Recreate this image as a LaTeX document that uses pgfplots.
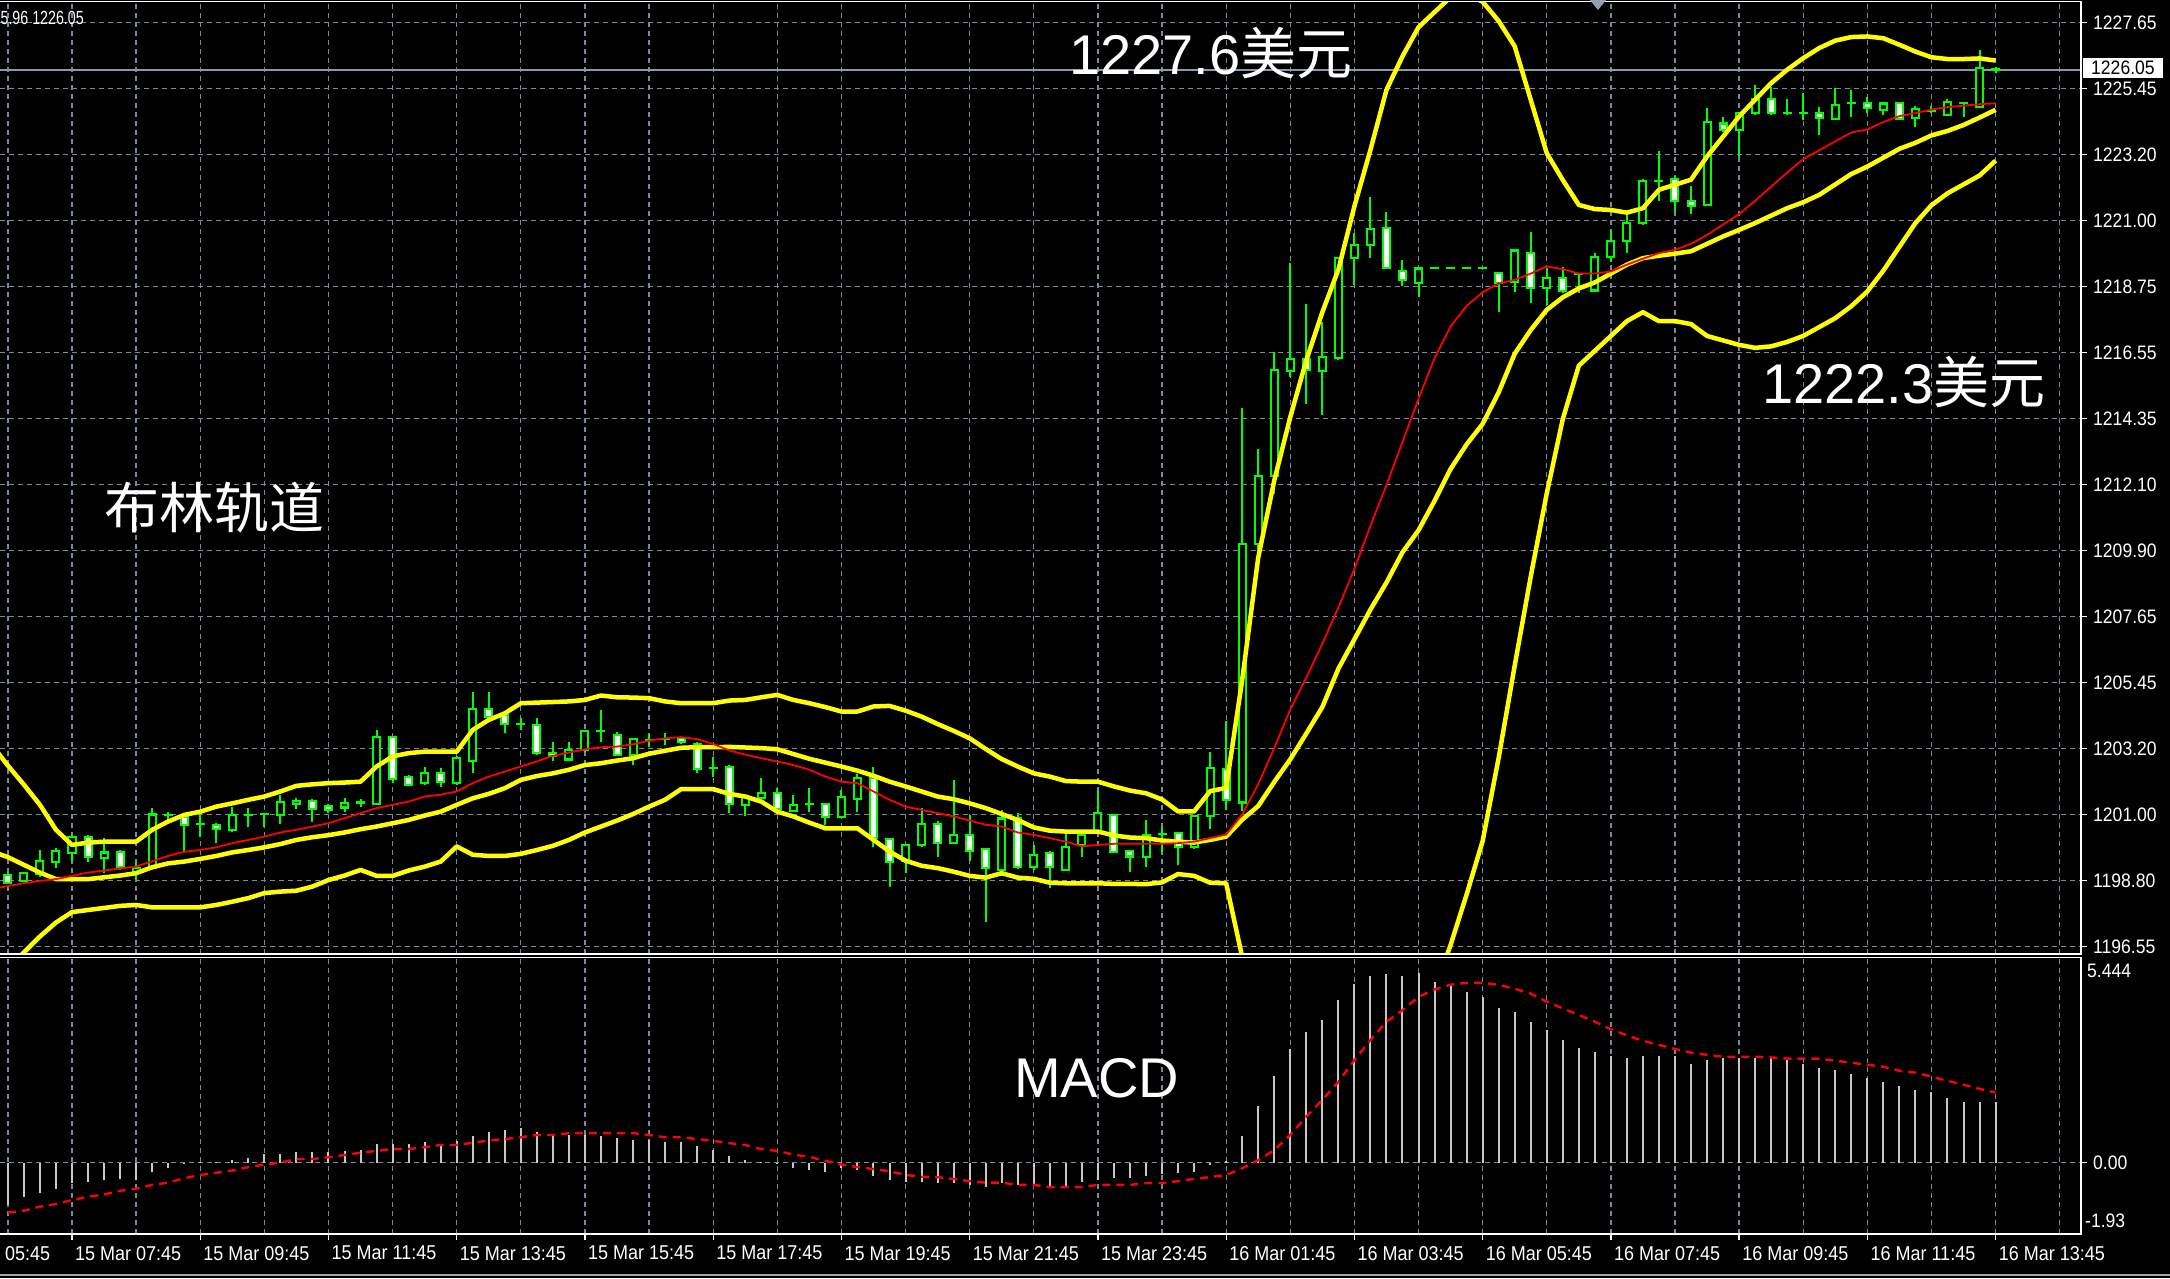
\documentclass[border=0pt]{standalone}
\usepackage{pgfplots}
\pgfplotsset{compat=1.18}
\usepackage{pgfplotstable}
\usepackage{fontspec}
\setmainfont{Liberation Sans}
\newfontfamily\cjk{Noto Sans CJK SC}
\newfontfamily\mtfont[FakeStretch=0.9]{Liberation Sans}
\newfontfamily\mtnarrow[FakeStretch=0.75]{Liberation Sans}
\definecolor{gridc}{HTML}{7A8A9C}
\definecolor{mtgreen}{HTML}{00FF00}
\definecolor{mtyellow}{HTML}{FFFF00}
\definecolor{histc}{HTML}{C8C8C8}
\definecolor{bidc}{HTML}{8A9AAA}

\pgfplotstableread{
i O H L C
-4 1198.96 1199.02 1198.68 1198.70
-3 1198.76 1199.07 1198.74 1199.04
-2 1199.02 1199.80 1198.91 1199.44
-1 1199.41 1199.86 1199.19 1199.78
0 1199.69 1200.31 1199.41 1200.25
1 1200.25 1200.31 1199.41 1199.58
2 1199.56 1200.20 1199.02 1199.73
3 1199.73 1199.80 1199.13 1199.24
4 1199.07 1199.41 1198.79 1199.19
5 1199.19 1201.21 1199.13 1201.00
6 1200.98 1201.09 1200.81 1200.98
7 1200.93 1200.98 1199.75 1200.65
8 1200.67 1201.04 1200.25 1200.67
9 1200.65 1200.70 1200.03 1200.51
10 1200.48 1201.26 1200.42 1201.00
11 1201.00 1201.21 1200.59 1201.00
12 1201.02 1201.04 1200.59 1201.02
13 1200.98 1201.66 1200.70 1201.41
14 1201.37 1201.54 1201.17 1201.45
15 1201.46 1201.54 1200.76 1201.18
16 1201.29 1201.37 1201.04 1201.17
17 1201.24 1201.54 1201.07 1201.40
18 1201.41 1201.54 1201.26 1201.41
19 1201.35 1203.84 1201.32 1203.62
20 1203.62 1203.64 1202.05 1202.19
21 1202.27 1202.33 1201.96 1201.99
22 1202.05 1202.61 1201.99 1202.41
23 1202.41 1202.55 1201.94 1202.08
24 1202.05 1202.95 1201.99 1202.89
25 1202.80 1205.13 1202.38 1204.57
26 1204.57 1205.13 1204.29 1204.29
27 1204.35 1204.46 1203.73 1204.04
28 1204.03 1204.24 1203.84 1204.03
29 1204.02 1204.24 1203.00 1203.08
30 1203.08 1203.42 1202.78 1202.97
31 1202.86 1203.42 1202.83 1203.17
32 1203.17 1203.84 1203.11 1203.82
33 1203.80 1204.52 1203.45 1203.80
34 1203.67 1203.79 1202.97 1203.00
35 1203.00 1203.56 1202.66 1203.53
36 1203.51 1203.73 1203.28 1203.51
37 1203.56 1203.75 1203.34 1203.56
38 1203.58 1203.62 1203.39 1203.45
39 1203.39 1203.45 1202.38 1202.55
40 1202.57 1202.95 1202.27 1202.57
41 1202.61 1202.66 1201.04 1201.35
42 1201.32 1201.66 1200.93 1201.60
43 1201.58 1202.22 1201.54 1201.73
44 1201.73 1201.88 1201.09 1201.17
45 1201.13 1201.66 1201.09 1201.33
46 1201.35 1201.88 1201.09 1201.35
47 1201.34 1201.40 1200.65 1200.93
48 1200.93 1201.82 1200.87 1201.60
49 1201.54 1202.38 1201.09 1202.22
50 1202.22 1202.61 1199.92 1200.20
51 1200.16 1200.20 1198.57 1199.41
52 1199.44 1199.97 1199.02 1199.97
53 1199.97 1201.21 1199.92 1200.67
54 1200.67 1200.79 1199.58 1200.05
55 1200.05 1202.16 1200.03 1200.31
56 1200.33 1200.98 1199.41 1199.78
57 1199.84 1199.84 1197.39 1199.19
58 1199.15 1201.15 1198.91 1200.87
59 1200.87 1201.06 1199.15 1199.22
60 1199.24 1199.97 1199.13 1199.63
61 1199.71 1199.75 1198.51 1199.24
62 1199.15 1200.39 1199.13 1199.92
63 1199.97 1200.39 1199.58 1200.31
64 1200.42 1201.82 1200.36 1201.06
65 1200.98 1201.02 1199.69 1199.75
66 1199.78 1199.80 1199.07 1199.58
67 1199.58 1200.81 1199.24 1200.31
68 1200.36 1200.59 1199.75 1200.36
69 1200.39 1200.42 1199.30 1199.92
70 1199.92 1200.98 1199.83 1200.95
71 1200.93 1203.11 1200.53 1202.55
72 1202.55 1204.16 1201.15 1201.49
73 1201.40 1214.68 1201.10 1210.10
74 1210.10 1213.30 1209.52 1212.39
75 1212.39 1216.58 1211.78 1215.97
76 1215.92 1219.56 1215.74 1216.32
77 1216.32 1218.18 1214.83 1215.97
78 1215.92 1217.57 1214.45 1216.40
79 1216.35 1219.77 1216.30 1219.72
80 1219.72 1220.56 1218.82 1220.17
81 1220.17 1221.79 1219.72 1220.72
82 1220.72 1221.27 1219.38 1219.38
83 1219.30 1219.66 1218.77 1218.99
84 1218.88 1219.38 1218.43 1219.38
85 1219.38 1219.38 1219.38 1219.38
86 1219.38 1219.38 1219.38 1219.38
87 1219.38 1219.38 1219.38 1219.38
88 1219.38 1219.38 1219.38 1219.38
89 1219.24 1219.24 1217.92 1218.90
90 1218.93 1219.98 1218.60 1219.98
91 1219.91 1220.59 1218.20 1218.71
92 1218.71 1219.38 1218.15 1219.05
93 1219.05 1219.44 1218.54 1218.63
94 1219.19 1219.21 1218.54 1219.19
95 1218.63 1219.91 1218.60 1219.77
96 1219.77 1220.69 1219.61 1220.31
97 1220.31 1221.26 1219.89 1220.92
98 1220.92 1222.39 1220.84 1222.33
99 1222.33 1223.34 1221.65 1222.33
100 1222.39 1222.47 1221.29 1221.66
101 1221.65 1222.15 1221.23 1221.48
102 1221.51 1224.77 1221.51 1224.30
103 1224.26 1224.49 1223.98 1224.04
104 1224.04 1224.66 1223.14 1224.60
105 1224.60 1225.55 1224.54 1225.10
106 1225.09 1225.50 1224.54 1224.60
107 1224.60 1225.10 1224.54 1224.60
108 1224.60 1225.29 1224.37 1224.60
109 1224.62 1224.82 1223.87 1224.43
110 1224.41 1225.44 1224.37 1224.88
111 1224.94 1225.38 1224.49 1224.94
112 1224.94 1225.16 1224.60 1224.77
113 1224.73 1224.94 1224.54 1224.94
114 1224.94 1224.99 1224.37 1224.43
115 1224.43 1224.85 1224.15 1224.73
116 1224.66 1224.85 1224.60 1224.66
117 1224.54 1225.10 1224.54 1224.96
118 1224.94 1225.00 1224.49 1224.94
119 1224.82 1226.73 1224.82 1226.11
120 1226.08 1226.17 1225.96 1226.05
}\candles

\pgfplotstableread{
i U M Lo R
-5 1203.34 1199.75 1195.20 1198.48
-4 1202.64 1199.56 1195.81 1198.59
-3 1202.00 1199.30 1196.35 1198.68
-2 1201.32 1199.04 1196.89 1198.76
-1 1200.48 1198.82 1197.36 1198.82
0 1199.97 1198.82 1197.71 1198.93
1 1200.05 1198.82 1197.78 1199.04
2 1200.08 1198.88 1197.85 1199.11
3 1200.08 1198.94 1197.92 1199.18
4 1200.08 1199.02 1197.95 1199.24
5 1200.48 1199.22 1197.87 1199.42
6 1200.76 1199.35 1197.87 1199.60
7 1200.98 1199.41 1197.87 1199.74
8 1201.09 1199.50 1197.87 1199.80
9 1201.26 1199.60 1197.95 1199.89
10 1201.37 1199.72 1198.06 1200.03
11 1201.49 1199.80 1198.18 1200.14
12 1201.60 1199.89 1198.35 1200.25
13 1201.77 1200.00 1198.40 1200.39
14 1201.96 1200.14 1198.43 1200.48
15 1202.01 1200.23 1198.57 1200.59
16 1202.05 1200.30 1198.79 1200.70
17 1202.07 1200.39 1198.94 1200.87
18 1202.10 1200.50 1199.13 1201.04
19 1202.61 1200.59 1198.93 1201.21
20 1202.95 1200.70 1198.93 1201.32
21 1203.06 1200.81 1199.11 1201.43
22 1203.11 1200.96 1199.24 1201.60
23 1203.11 1201.09 1199.41 1201.66
24 1203.11 1201.32 1199.92 1201.77
25 1203.84 1201.54 1199.64 1202.05
26 1204.18 1201.69 1199.60 1202.27
27 1204.40 1201.88 1199.60 1202.44
28 1204.74 1202.16 1199.67 1202.61
29 1204.76 1202.29 1199.80 1202.78
30 1204.78 1202.38 1199.94 1202.97
31 1204.80 1202.50 1200.14 1203.08
32 1204.85 1202.66 1200.39 1203.19
33 1205.00 1202.72 1200.59 1203.26
34 1204.94 1202.81 1200.79 1203.28
35 1204.93 1202.89 1201.01 1203.36
36 1204.91 1203.04 1201.26 1203.48
37 1204.80 1203.14 1201.49 1203.56
38 1204.74 1203.24 1201.85 1203.60
39 1204.74 1203.26 1201.85 1203.53
40 1204.74 1203.26 1201.85 1203.37
41 1204.83 1203.27 1201.69 1203.15
42 1204.85 1203.25 1201.60 1203.01
43 1204.94 1203.23 1201.43 1202.89
44 1205.02 1203.19 1201.09 1202.78
45 1204.85 1203.03 1200.93 1202.66
46 1204.74 1202.87 1200.72 1202.50
47 1204.61 1202.74 1200.53 1202.27
48 1204.46 1202.61 1200.53 1202.10
49 1204.46 1202.47 1200.53 1202.05
50 1204.63 1202.30 1200.14 1201.77
51 1204.65 1202.10 1199.75 1201.49
52 1204.49 1201.94 1199.44 1201.26
53 1204.29 1201.77 1199.27 1201.15
54 1204.04 1201.60 1199.19 1201.04
55 1203.81 1201.51 1199.07 1200.93
56 1203.56 1201.37 1198.93 1200.79
57 1203.20 1201.21 1198.87 1200.65
58 1202.86 1201.01 1199.02 1200.59
59 1202.61 1200.81 1198.87 1200.39
60 1202.38 1200.56 1198.83 1200.31
61 1202.27 1200.45 1198.70 1200.20
62 1202.12 1200.42 1198.68 1200.08
63 1202.10 1200.42 1198.68 1199.92
64 1202.10 1200.42 1198.68 1199.97
65 1201.94 1200.29 1198.66 1200.01
66 1201.80 1200.22 1198.66 1200.01
67 1201.71 1200.20 1198.65 1200.01
68 1201.50 1200.12 1198.71 1200.01
69 1201.10 1200.08 1198.99 1200.03
70 1201.10 1200.05 1198.93 1200.08
71 1201.78 1200.14 1198.70 1200.20
72 1201.89 1200.25 1198.68 1200.32
73 1205.52 1200.82 1196.20 1201.00
74 1209.64 1201.28 1192.92 1202.01
75 1212.23 1202.09 1191.95 1203.23
76 1214.37 1202.85 1191.33 1204.53
77 1216.28 1203.72 1191.16 1205.60
78 1217.90 1204.61 1191.32 1206.74
79 1219.33 1205.90 1192.47 1207.96
80 1221.46 1206.89 1192.32 1209.26
81 1223.36 1207.89 1192.42 1210.71
82 1225.38 1208.80 1192.22 1212.08
83 1226.51 1209.82 1193.13 1213.53
84 1227.49 1210.56 1193.63 1214.98
85 1228.00 1211.55 1195.10 1216.35
86 1228.50 1212.62 1196.60 1217.42
87 1228.60 1213.45 1198.30 1218.11
88 1228.35 1214.14 1200.10 1218.57
89 1227.70 1215.20 1202.90 1218.87
90 1226.85 1216.50 1206.00 1218.99
91 1225.05 1217.30 1209.00 1219.20
92 1223.25 1217.98 1211.80 1219.44
93 1222.35 1218.40 1214.30 1219.35
94 1221.51 1218.70 1216.10 1219.20
95 1221.37 1218.90 1216.60 1219.20
96 1221.34 1219.20 1217.10 1219.27
97 1221.25 1219.50 1217.60 1219.50
98 1221.40 1219.72 1217.90 1219.70
99 1222.02 1219.80 1217.60 1219.89
100 1222.19 1219.87 1217.60 1220.00
101 1222.36 1219.95 1217.50 1220.20
102 1223.14 1220.20 1217.10 1220.50
103 1223.81 1220.45 1216.95 1220.85
104 1224.49 1220.67 1216.80 1221.20
105 1225.05 1220.90 1216.70 1221.65
106 1225.61 1221.15 1216.75 1222.13
107 1226.06 1221.40 1216.90 1222.60
108 1226.45 1221.60 1217.10 1223.05
109 1226.79 1221.85 1217.40 1223.35
110 1227.04 1222.20 1217.70 1223.65
111 1227.16 1222.55 1218.10 1223.95
112 1227.18 1222.80 1218.60 1224.05
113 1227.12 1223.10 1219.30 1224.30
114 1226.90 1223.40 1220.10 1224.50
115 1226.67 1223.60 1220.90 1224.60
116 1226.48 1223.85 1221.50 1224.72
117 1226.42 1224.00 1221.90 1224.80
118 1226.42 1224.20 1222.20 1224.85
119 1226.44 1224.45 1222.50 1224.90
120 1226.37 1224.71 1223.00 1224.93
}\bands

\pgfplotstableread{
i Hst Sig
-4 -1.15 -1.35
-3 -0.94 -1.30
-2 -0.83 -1.19
-1 -0.72 -1.12
0 -0.56 -1.01
1 -0.51 -0.92
2 -0.47 -0.86
3 -0.45 -0.76
4 -0.47 -0.70
5 -0.24 -0.60
6 -0.13 -0.54
7 -0.02 -0.42
8 0.01 -0.33
9 0.02 -0.27
10 0.07 -0.21
11 0.13 -0.12
12 0.23 -0.05
13 0.23 0.00
14 0.30 0.10
15 0.30 0.10
16 0.29 0.15
17 0.31 0.21
18 0.34 0.27
19 0.51 0.32
20 0.50 0.37
21 0.52 0.37
22 0.56 0.42
23 0.52 0.48
24 0.60 0.48
25 0.72 0.54
26 0.83 0.60
27 0.88 0.64
28 0.93 0.69
29 0.84 0.75
30 0.79 0.75
31 0.74 0.80
32 0.75 0.80
33 0.72 0.80
34 0.66 0.80
35 0.61 0.80
36 0.61 0.75
37 0.56 0.69
38 0.56 0.69
39 0.45 0.64
40 0.34 0.59
41 0.18 0.53
42 0.07 0.48
43 0.01 0.37
44 -0.02 0.32
45 -0.14 0.22
46 -0.20 0.16
47 -0.24 0.05
48 -0.15 -0.05
49 -0.20 -0.12
50 -0.36 -0.17
51 -0.47 -0.23
52 -0.51 -0.33
53 -0.51 -0.38
54 -0.56 -0.39
55 -0.56 -0.44
56 -0.61 -0.50
57 -0.67 -0.54
58 -0.56 -0.54
59 -0.60 -0.60
60 -0.63 -0.60
61 -0.63 -0.66
62 -0.67 -0.66
63 -0.53 -0.66
64 -0.47 -0.60
65 -0.42 -0.60
66 -0.42 -0.60
67 -0.36 -0.55
68 -0.31 -0.55
69 -0.27 -0.50
70 -0.24 -0.44
71 -0.05 -0.39
72 0.05 -0.33
73 0.72 -0.15
74 1.53 0.07
75 2.35 0.34
76 3.07 0.75
77 3.54 1.25
78 3.86 1.70
79 4.40 2.19
80 4.83 2.78
81 5.05 3.32
82 5.11 3.82
83 5.05 4.13
84 5.14 4.49
85 4.88 4.69
86 4.81 4.82
87 4.61 4.87
88 4.49 4.87
89 4.18 4.82
90 4.08 4.71
91 3.81 4.58
92 3.59 4.36
93 3.32 4.18
94 3.10 4.00
95 3.00 3.82
96 2.89 3.61
97 2.83 3.45
98 2.89 3.30
99 2.89 3.19
100 2.89 3.08
101 2.67 2.98
102 2.78 2.92
103 2.83 2.87
104 2.83 2.87
105 2.83 2.87
106 2.83 2.85
107 2.78 2.82
108 2.67 2.82
109 2.56 2.82
110 2.51 2.76
111 2.40 2.71
112 2.29 2.65
113 2.18 2.60
114 2.08 2.49
115 1.97 2.44
116 1.91 2.33
117 1.75 2.22
118 1.64 2.11
119 1.64 2.00
120 1.64 1.90
}\macd

\pgfplotsset{
  mtaxis/.style={
    scale only axis, width=2081pt, anchor=south west,
    xmin=-4.4916, xmax=125.33,
    axis line style={draw=none},
    grid=both,
    major grid style={draw=gridc, line width=1.3pt, dash pattern=on 5pt off 4pt},
    minor grid style={draw=gridc, line width=1.3pt, dash pattern=on 5pt off 4pt},
    xtick={0,8,...,120}, minor xtick={-4,4,...,124},
    tick align=outside, major tick length=6pt, minor tick length=0pt,
    tick style={white, line width=1.3pt},
    ytick pos=right, yticklabel pos=right,
    yticklabel style={font=\mtfont\fontsize{19.5}{20}\selectfont, text=white, anchor=west, inner sep=0pt, xshift=6pt},
  },
  candle/.style={draw=none, forget plot, error bars/.cd, y dir=both, y explicit, error mark=none,
    error bar style={solid, line cap=butt, #1}},
}

\begin{document}
\begin{tikzpicture}[x=1pt,y=1pt]
\useasboundingbox (0,0) rectangle (2170,1278);
\clip (0,0) rectangle (2170,1278);
\fill[black] (0,0) rectangle (2170,1278);

% ---------------- price panel ----------------
\begin{axis}[mtaxis, at={(0pt,324pt)}, height=952pt,
  ymin=1196.30, ymax=1228.34,
  ytick={1196.55,1198.771,1200.993,1203.214,1205.436,1207.657,1209.879,1212.100,1214.321,1216.543,1218.764,1220.986,1223.207,1225.429,1227.650},
  yticklabels={1196.55,1198.80,1201.00,1203.20,1205.45,1207.65,1209.90,1212.10,1214.35,1216.55,1218.75,1221.00,1223.20,1225.45,1227.65},
  xticklabels={}, xtick style={draw=none}]
\addplot[bidc, line width=1.5pt, forget plot] coordinates {(-5,1226.05) (126,1226.05)};
% wicks
\addplot[candle={draw=mtgreen, line width=2pt}] table[x=i, y expr={(\thisrow{H}+\thisrow{L})/2}, y error expr={(\thisrow{H}-\thisrow{L})/2}] {\candles};
% body outline
\addplot[candle={draw=mtgreen, line width=9pt}] table[x=i, y expr={(\thisrow{O}+\thisrow{C})/2}, y error expr={abs(\thisrow{C}-\thisrow{O})/2+0.035}] {\candles};
% bear fill
\addplot[candle={draw=white, line width=5pt}] table[x=i, y expr={(\thisrow{O}+\thisrow{C})/2}, y error expr={(\thisrow{O}>\thisrow{C})*max(abs(\thisrow{C}-\thisrow{O})/2-0.035,0)}] {\candles};
% bull fill
\addplot[candle={draw=black, line width=5pt}] table[x=i, y expr={(\thisrow{O}+\thisrow{C})/2}, y error expr={(\thisrow{C}>\thisrow{O})*max(abs(\thisrow{C}-\thisrow{O})/2-0.035,0)}] {\candles};
% bollinger bands and MA
\addplot[mtyellow, line width=4.5pt, line join=round] table[x=i, y=U] {\bands};
\addplot[mtyellow, line width=4.5pt, line join=round] table[x=i, y=M] {\bands};
\addplot[mtyellow, line width=4.5pt, line join=round] table[x=i, y=Lo] {\bands};
\addplot[red, line width=1.8pt, line join=round] table[x=i, y=R] {\bands};
\end{axis}

% ---------------- MACD panel ----------------
\begin{axis}[mtaxis, at={(0pt,44pt)}, height=277pt,
  ymin=-1.93, ymax=5.57,
  ytick={0}, yticklabels={0.00},
  xtick pos=bottom,
  xticklabels={15 Mar 07:45,15 Mar 09:45,15 Mar 11:45,15 Mar 13:45,15 Mar 15:45,15 Mar 17:45,15 Mar 19:45,15 Mar 21:45,15 Mar 23:45,16 Mar 01:45,16 Mar 03:45,16 Mar 05:45,16 Mar 07:45,16 Mar 09:45,16 Mar 11:45,16 Mar 13:45},
  xticklabel style={font=\mtfont\fontsize{20}{20}\selectfont, text=white, anchor=north west, inner sep=0pt, xshift=3pt, yshift=-6pt}]
\addplot[ycomb, draw=histc, line width=2pt] table[x=i, y=Hst] {\macd};
\addplot[red, line width=2.4pt, dash pattern=on 8pt off 6pt] table[x=i, y=Sig] {\macd};
\end{axis}

% ---------------- frame ----------------
\draw[white, line width=1.6pt] (0,1276.5) -- (2081,1276.5) -- (2081,324) -- (0,324);
\draw[white, line width=1.6pt] (0,320.5) -- (2081,320.5) -- (2081,44) -- (0,44);
\draw[gray!70, line width=2pt] (0,3) -- (2170,3);
\fill[gridc!80!white] (1590,1278) -- (1606,1278) -- (1598,1268) -- cycle;

% labels
\node[anchor=north west, inner sep=0pt, text=white, font=\mtfont\fontsize{20}{20}\selectfont] at (-56,32) {15 Mar 05:45};
\node[anchor=west, inner sep=0pt, text=white, font=\mtfont\fontsize{19.5}{20}\selectfont] at (2087,307) {5.444};
\node[anchor=west, inner sep=0pt, text=white, font=\mtfont\fontsize{19.5}{20}\selectfont] at (2085,57) {-1.93};
\node[anchor=west, fill=white, text=black, inner xsep=8pt, inner ysep=3pt, font=\mtfont\fontsize{19.5}{20}\selectfont] at (2083,1210) {1226.05};
\node[anchor=east, inner sep=0pt, text=white, font=\mtnarrow\fontsize{19}{20}\selectfont] at (84,1260) {1225.96 1226.05};

\node[anchor=base west, inner sep=0pt, text=white, font=\fontsize{56}{60}\selectfont] at (1069,1203) {1227.6{\cjk 美元}};
\node[anchor=base west, inner sep=0pt, text=white, font=\fontsize{56}{60}\selectfont] at (1762,874) {1222.3{\cjk 美元}};
\node[anchor=base west, inner sep=0pt, text=white, font=\cjk\fontsize{55}{60}\selectfont] at (104,749) {布林轨道};
\node[anchor=base west, inner sep=0pt, text=white, font=\fontsize{56}{60}\selectfont] at (1014,181) {MACD};
\end{tikzpicture}
\end{document}
